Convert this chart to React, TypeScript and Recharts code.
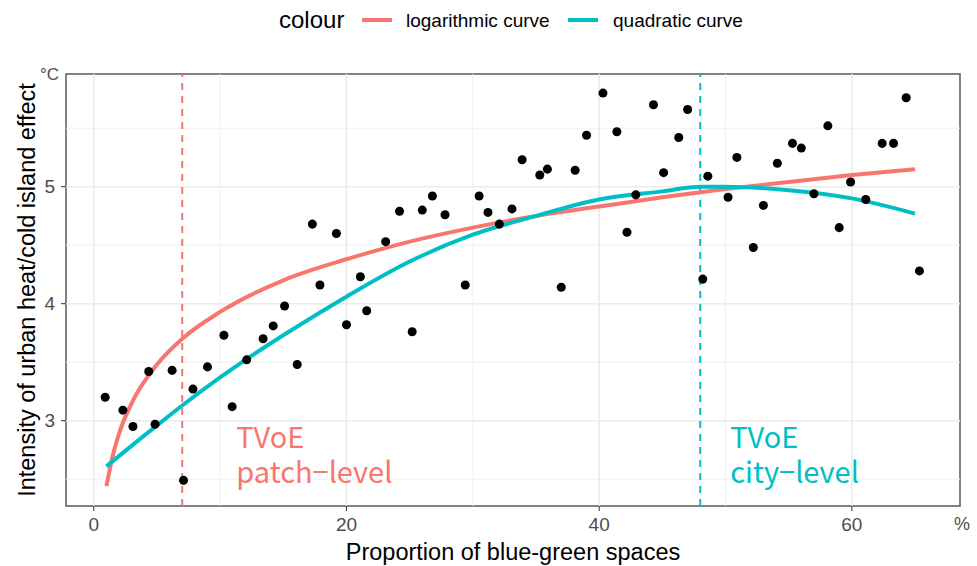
import { ComposedChart, Scatter, XAxis, YAxis, ZAxis, ReferenceLine, ReferenceArea } from "recharts";

// observed cities
const blueGreenShare = [
  0.9, 2.3, 3.1, 4.35, 4.85, 6.2, 7.1, 7.85, 9.0, 10.3, 10.95, 12.1, 13.4, 14.2, 15.1, 16.1,
  17.3, 17.9, 19.2, 20.0, 21.1, 21.6, 23.1, 24.2, 25.2, 26.0, 26.8, 27.8, 29.4, 30.5, 31.2,
  32.1, 33.1, 33.9, 35.3, 35.9, 37.0, 38.1, 39.0, 40.3, 41.4, 42.2, 42.9, 44.3, 45.1, 46.3,
  47.0, 48.2, 48.6, 50.2, 50.9, 52.2, 53.0, 54.1, 55.3, 56.0, 57.0, 58.1, 59.0, 59.9, 61.1,
  62.4, 63.3, 64.3, 65.35,
];
const islandIntensity = [
  3.2, 3.09, 2.95, 3.42, 2.97, 3.43, 2.49, 3.27, 3.46, 3.73, 3.12, 3.52, 3.7, 3.81, 3.98, 3.48,
  4.68, 4.16, 4.6, 3.82, 4.23, 3.94, 4.53, 4.79, 3.76, 4.8, 4.92, 4.76, 4.16, 4.92, 4.78,
  4.68, 4.81, 5.23, 5.1, 5.15, 4.14, 5.14, 5.44, 5.8, 5.47, 4.61, 4.93, 5.7, 5.12, 5.42,
  5.66, 4.21, 5.09, 4.91, 5.25, 4.48, 4.84, 5.2, 5.37, 5.33, 4.94, 5.52, 4.65, 5.04, 4.89,
  5.37, 5.37, 5.76, 4.28,
];

// fitted curves
const logX = [1, 1.5, 2, 3, 5, 7, 10, 15, 20, 25, 30, 35, 40, 45, 50, 55, 60, 65];
const logY = [2.44, 2.7, 2.89, 3.15, 3.48, 3.7, 3.93, 4.2, 4.38, 4.53, 4.65, 4.75, 4.83, 4.91, 4.98, 5.04, 5.1, 5.15];
const quadX = [1, 5, 7, 10, 12, 15, 20, 25, 30, 35, 40, 45, 48, 50, 55, 60, 65];
const quadY = [2.61, 2.96, 3.13, 3.37, 3.52, 3.73, 4.06, 4.36, 4.59, 4.75, 4.89, 4.96, 5.0, 5.0, 4.97, 4.9, 4.77];

const xTicks = [0, 20, 40, 60];
const yTicks = [3, 4, 5];
const xMinor = [10, 30, 50];
const yMinor = [2.5, 3.5, 4.5, 5.5];
const patchLevel = 7;
const cityLevel = 48;

const RED = "#F8766D";
const TEAL = "#00BFC4";
const X_DOMAIN: [number, number] = [-2.2, 68.56];
const Y_DOMAIN: [number, number] = [2.271, 5.963];
const SANS = "'Liberation Sans', Arial, sans-serif";
const CJK = "'Noto Sans CJK SC', 'Noto Sans', sans-serif";

const zip = (xs: number[], ys: number[]) => xs.map((x, i) => ({ x, y: ys[i] }));
const points = zip(blueGreenShare, islandIntensity);
const logCurve = zip(logX, logY);
const quadCurve = zip(quadX, quadY);

const NoDot = () => <g />;

const tvoeLabel = (second: string, color: string, dx: number) => (props: any) => {
  const { x, y, height } = props.viewBox;
  const bottom = y + height;
  return (
    <g fill={color} fontSize={29} fontFamily={CJK}>
      <text x={x + dx} y={bottom - 58}>TVoE</text>
      <text x={x + dx} y={bottom - 23}>{second}</text>
    </g>
  );
};

export default function App() {
  return (
    <div style={{ position: "absolute", left: 0, top: 0, width: 977, height: 566, background: "#fff" }}>
      <ComposedChart width={977} height={566} margin={{ top: 74, right: 17, bottom: 0, left: 0 }}>
        <XAxis
          dataKey="x"
          type="number"
          domain={X_DOMAIN}
          ticks={xTicks}
          allowDataOverflow
          height={60}
          axisLine={false}
          tickSize={5}
          tickMargin={7}
          tickLine={{ stroke: "#333" }}
          tick={{ fill: "#4D4D4D", fontSize: 19, fontFamily: SANS }}
          label={{
            content: (p: any) => (
              <text x={p.viewBox.x + p.viewBox.width / 2} y={p.viewBox.y + 54} textAnchor="middle" fontSize={23.5} fontFamily={SANS} fill="#000">
                Proportion of blue-green spaces
              </text>
            ),
          }}
        />
        <YAxis
          dataKey="y"
          type="number"
          domain={Y_DOMAIN}
          ticks={yTicks}
          allowDataOverflow
          width={66}
          axisLine={false}
          tickSize={5}
          tickMargin={6}
          tickLine={{ stroke: "#333" }}
          tick={{ fill: "#4D4D4D", fontSize: 19, fontFamily: SANS }}
          label={{
            content: (p: any) => {
              const cy = p.viewBox.y + p.viewBox.height / 2;
              return (
                <text x={35} y={cy} transform={`rotate(-90, 35, ${cy})`} textAnchor="middle" fontSize={23.5} fontFamily={SANS} fill="#000">
                  Intensity of urban heat/cold island effect
                </text>
              );
            },
          }}
        />
        <ZAxis type="number" range={[82, 82]} />

        {yMinor.map((v) => (
          <ReferenceLine key={`ym${v}`} y={v} stroke="#F0F0F0" strokeWidth={1} />
        ))}
        {xMinor.map((v) => (
          <ReferenceLine key={`xm${v}`} x={v} stroke="#F0F0F0" strokeWidth={1} />
        ))}
        {yTicks.map((v) => (
          <ReferenceLine key={`y${v}`} y={v} stroke="#EBEBEB" strokeWidth={1.6} />
        ))}
        {xTicks.map((v) => (
          <ReferenceLine key={`x${v}`} x={v} stroke="#EBEBEB" strokeWidth={1.6} />
        ))}

        <ReferenceLine x={patchLevel} stroke={RED} strokeWidth={2} strokeDasharray="7 6" label={tvoeLabel("patch\u2212level", RED, 54)} />
        <ReferenceLine x={cityLevel} stroke={TEAL} strokeWidth={2} strokeDasharray="7 6" label={tvoeLabel("city\u2212level", TEAL, 30)} />

        <Scatter data={logCurve} line={{ stroke: RED, strokeWidth: 4 }} lineJointType="monotoneX" shape={NoDot} isAnimationActive={false} />
        <Scatter data={quadCurve} line={{ stroke: TEAL, strokeWidth: 4 }} lineJointType="monotoneX" shape={NoDot} isAnimationActive={false} />
        <Scatter data={points} fill="#000" isAnimationActive={false} />

        <ReferenceArea
          x1={X_DOMAIN[0]}
          x2={X_DOMAIN[1]}
          y1={Y_DOMAIN[0]}
          y2={Y_DOMAIN[1]}
          fill="none"
          fillOpacity={0}
          stroke="#5A5A5A"
          strokeWidth={1.5}
          ifOverflow="visible"
        />
      </ComposedChart>

      <svg width={977} height={566} style={{ position: "absolute", left: 0, top: 0, pointerEvents: "none" }}>
        <text x={279} y={28} fontSize={24} fontFamily={SANS} fill="#000">colour</text>
        <line x1={362} x2={392} y1={20} y2={20} stroke={RED} strokeWidth={4} />
        <text x={406} y={27} fontSize={19} fontFamily={SANS} fill="#000">logarithmic curve</text>
        <line x1={568} x2={598} y1={20} y2={20} stroke={TEAL} strokeWidth={4} />
        <text x={613} y={27} fontSize={19} fontFamily={SANS} fill="#000">quadratic curve</text>
        <text x={40} y={80} fontSize={17} fontFamily={SANS} fill="#4D4D4D">°C</text>
        <text x={954} y={530} fontSize={18} fontFamily={SANS} fill="#4D4D4D">%</text>
      </svg>
    </div>
  );
}
